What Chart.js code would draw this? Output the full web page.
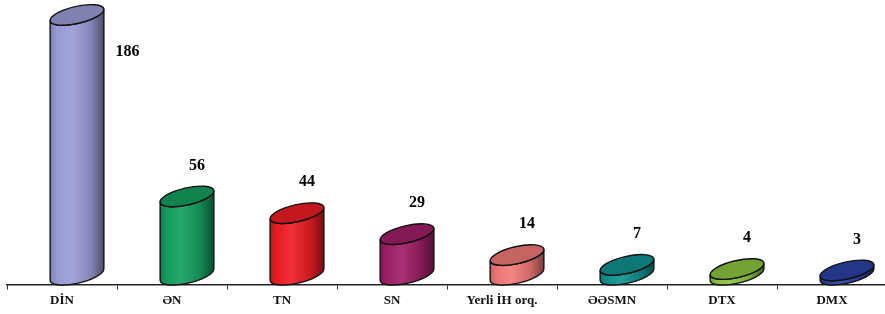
<!DOCTYPE html>
<html lang="az">
<head>
<meta charset="UTF-8">
<title>Cylinder chart</title>
<script src="https://cdn.jsdelivr.net/npm/chart.js@4"></script>
<style>
  html, body { margin: 0; padding: 0; background: #fff; overflow: hidden; }
  #wrap { position: relative; width: 890px; height: 314px; }
</style>
</head>
<body>
<div id="wrap"><canvas id="chartCanvas"></canvas></div>
<script>
const categories = ['DİN', 'ƏN', 'TN', 'SN', 'Yerli İH orq.', 'ƏƏSMN', 'DTX', 'DMX']
const values = [186, 56, 44, 29, 14, 7, 4, 3]
const barColors = ['#9c9dd8', '#15a060', '#ee1d25', '#a01f68', '#f27a78', '#109290', '#8cc43e', '#2b42a6']

// darken / lighten a hex colour by a factor
function shade(hex, f) {
  const n = parseInt(hex.slice(1), 16)
  let r = (n >> 16) & 255, g = (n >> 8) & 255, b = n & 255
  if (f < 1) { r *= f; g *= f; b *= f }
  else { r += (255 - r) * (f - 1); g += (255 - g) * (f - 1); b += (255 - b) * (f - 1) }
  return 'rgb(' + Math.round(r) + ',' + Math.round(g) + ',' + Math.round(b) + ')'
}

const cylinderPlugin = {
  id: 'cylinders',
  afterDatasetsDraw(chart) {
    const ctx = chart.ctx
    const meta = chart.getDatasetMeta(0)
    const rot = -13 * Math.PI / 180
    meta.data.forEach((bar, i) => {
      const a = bar.width / 2
      const b = 8.5
      const cx = bar.x + 15        // 3d depth shift
      const yTop = bar.y
      const yBot = bar.base
      const t0 = Math.atan((-b * Math.sin(rot)) / (a * Math.cos(rot)))
      const pt = (cy, t) => [
        cx + a * Math.cos(t) * Math.cos(rot) - b * Math.sin(t) * Math.sin(rot),
        cy + a * Math.cos(t) * Math.sin(rot) + b * Math.sin(t) * Math.cos(rot)
      ]
      const left = pt(yTop, t0 + Math.PI)
      const right = pt(yTop, t0)
      const col = barColors[i]

      ctx.save()
      ctx.lineWidth = 1.4
      ctx.strokeStyle = '#111'
      ctx.lineJoin = 'round'

      // body
      const grad = ctx.createLinearGradient(left[0], 0, right[0], 0)
      grad.addColorStop(0, shade(col, 0.82))
      grad.addColorStop(0.12, shade(col, 0.97))
      grad.addColorStop(0.4, shade(col, 1.08))
      grad.addColorStop(0.75, shade(col, 0.85))
      grad.addColorStop(1, shade(col, 0.5))
      ctx.beginPath()
      ctx.ellipse(cx, yTop, a, b, rot, t0, t0 + Math.PI)
      const bl = pt(yBot, t0 + Math.PI)
      ctx.lineTo(bl[0], bl[1])
      ctx.ellipse(cx, yBot, a, b, rot, t0 + Math.PI, t0, true)
      ctx.closePath()
      ctx.fillStyle = grad
      ctx.fill()
      ctx.stroke()

      // top
      ctx.beginPath()
      ctx.ellipse(cx, yTop, a, b, rot, 0, Math.PI * 2)
      ctx.fillStyle = shade(col, 0.82)
      ctx.fill()
      ctx.stroke()

      // value label
      ctx.fillStyle = '#000'
      ctx.font = 'bold 16px "Liberation Serif", "Times New Roman", serif'
      ctx.textAlign = 'center'
      ctx.textBaseline = 'middle'
      let lx = cx + 10, ly = yTop - 31
      if (ly < 20) { lx = cx + a + 23; ly = yTop + 37 }
      ctx.fillText(String(values[i]), lx, ly)
      ctx.restore()
    })
  }
}

const ctx = document.getElementById('chartCanvas').getContext('2d')
new Chart(ctx, {
  type: 'bar',
  data: {
    labels: categories,
    datasets: [{
      data: values,
      backgroundColor: 'rgba(0,0,0,0)',
      borderWidth: 0,
      barPercentage: 0.5,
      categoryPercentage: 1
    }]
  },
  options: {
    responsive: true,
    maintainAspectRatio: false,
    animation: false,
    layout: { padding: { left: 7, right: 3, top: 0, bottom: 2.8 } },
    plugins: { legend: { display: false }, tooltip: { enabled: false } },
    scales: {
      y: { display: false, min: -7.15, max: 196.7 },
      x: {
        grid: { drawOnChartArea: false, tickLength: 5, color: '#333', lineWidth: 1 },
        border: { display: true, color: '#222', width: 1.5 },
        ticks: {
          color: '#111',
          padding: 3,
          maxRotation: 0,
          autoSkip: false,
          font: { family: '"Liberation Serif", "Times New Roman", serif', weight: 'bold', size: 13 }
        }
      }
    }
  },
  plugins: [cylinderPlugin]
})
</script>
</body>
</html>
